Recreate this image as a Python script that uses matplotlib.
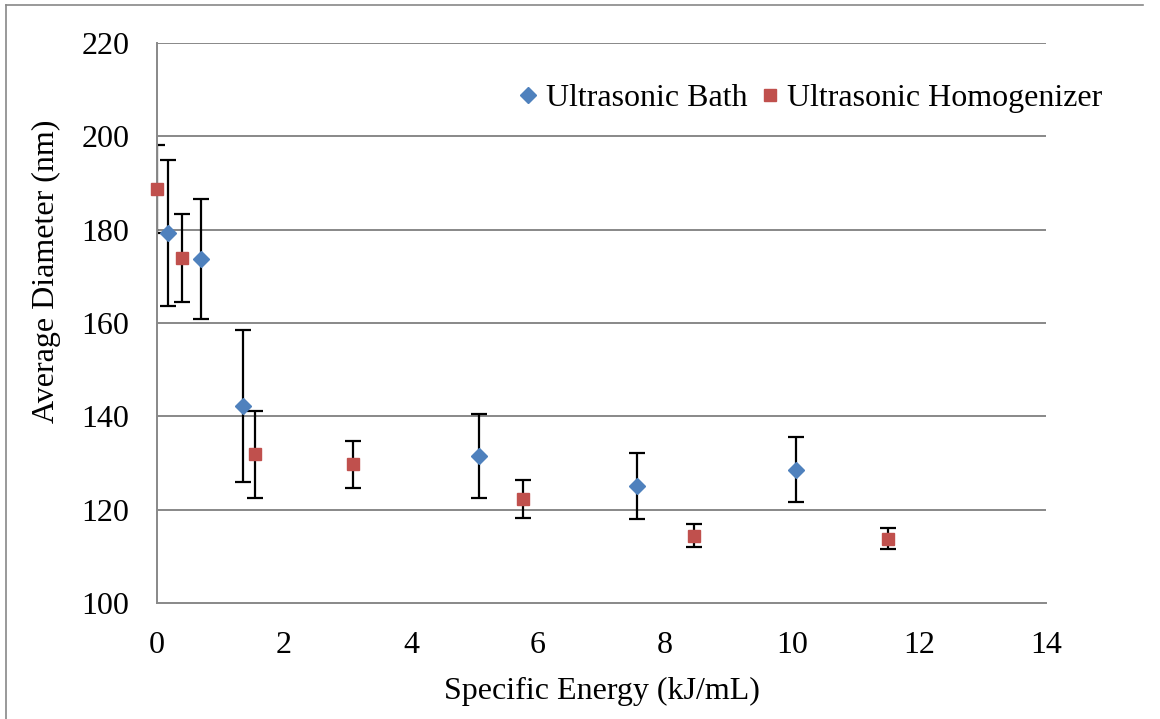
import matplotlib
matplotlib.use("Agg")
from matplotlib import pyplot as plt
from matplotlib.lines import Line2D

# data
bath_x = [0.17, 0.69, 1.35, 5.07, 7.56, 10.07]
bath_y = [179.3, 173.7, 142.3, 131.5, 125.1, 128.6]
bath_err = [15.7, 12.9, 16.3, 8.9, 7.0, 7.0]

homog_x = [0.0, 0.40, 1.55, 3.08, 5.76, 8.45, 11.51]
homog_y = [188.7, 173.9, 131.9, 129.7, 122.3, 114.4, 113.8]
homog_err = [9.5, 9.5, 9.3, 5.0, 4.1, 2.5, 2.2]

x_ticks = [0, 2, 4, 6, 8, 10, 12, 14]
y_ticks = [100, 120, 140, 160, 180, 200, 220]

blue = "#4F81BD"
red = "#C0504D"

plt.rcParams["font.family"] = ["Liberation Serif", "DejaVu Serif"]
plt.rcParams["font.size"] = 23

W, H = 1160, 719
fig = plt.figure(figsize=(W / 100, H / 100), dpi=100)
ax = fig.add_axes([157 / W, 1 - 603 / H, (1046 - 157) / W, (603 - 43) / H])

# error bars (clipped at the axes, like the reference)
ax.errorbar(bath_x, bath_y, yerr=bath_err, fmt="none", ecolor="black",
            elinewidth=1.6, capsize=6, capthick=1.6, zorder=2)
ax.errorbar(homog_x, homog_y, yerr=homog_err, fmt="none", ecolor="black",
            elinewidth=1.6, capsize=6, capthick=1.6, zorder=2)
# markers drawn on top, not clipped
ax.plot(bath_x, bath_y, "D", color=blue, ms=8, ls="none",
        clip_on=False, zorder=3)
ax.plot(homog_x, homog_y, "s", color=red, ms=8.5, ls="none",
        clip_on=False, zorder=3)

ax.set_xlim(0, 14)
ax.set_ylim(100, 220)
ax.set_xticks(x_ticks)
ax.set_yticks(y_ticks)
ax.tick_params(length=0)
ax.tick_params(axis="y", pad=20)
ax.tick_params(axis="x", pad=20)

for yv in y_ticks[1:]:
    ax.axhline(yv, color="#888888", lw=1.4, zorder=1)
for side in ["top", "right"]:
    ax.spines[side].set_visible(False)
for side in ["left", "bottom"]:
    ax.spines[side].set_color("#888888")
    ax.spines[side].set_linewidth(1.4)

ax.set_xlabel("Specific Energy (kJ/mL)", labelpad=12)
ax.set_ylabel("Average Diameter (nm)")
ax.yaxis.set_label_coords(-0.108, 0.593)

handles = [
    Line2D([], [], marker="D", ls="none", color=blue, ms=8),
    Line2D([], [], marker="s", ls="none", color=red, ms=8.5),
]
ax.legend(handles, ["Ultrasonic Bath", "Ultrasonic Homogenizer"], ncol=2,
          frameon=False, loc="upper right", bbox_to_anchor=(1.078, 0.95),
          handlelength=0.6, handletextpad=0.25, columnspacing=0.4,
          borderaxespad=0)

# outer border of the cropped figure (top and left only)
fig.add_artist(Line2D([6 / W, 1143 / W], [1 - 5 / H, 1 - 5 / H],
                      color="#888888", lw=1.2))
fig.add_artist(Line2D([6 / W, 6 / W], [0, 1 - 5 / H],
                      color="#888888", lw=1.2))

fig.savefig("out.png", dpi=100)
